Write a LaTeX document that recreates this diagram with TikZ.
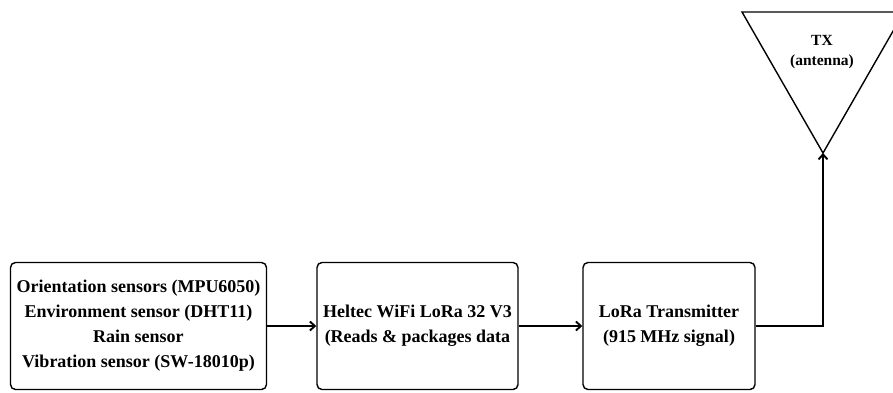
\documentclass[tikz,border=0pt]{standalone}
\usepackage{fontspec}
\setmainfont{Liberation Serif}
\usetikzlibrary{arrows.meta}
\begin{document}
\begin{tikzpicture}[x=1pt,y=-1pt,
  blk/.style={draw, line width=1.4pt, rounded corners=5pt, align=center, font=\bfseries\fontsize{18}{25}\selectfont, inner sep=0pt},
  conn/.style={line width=1.9pt, -{Straight Barb[length=5pt,width=9pt,line width=1.9pt]}},
  lbl/.style={font=\bfseries\fontsize{15.5}{20}\selectfont, align=center, inner sep=0pt}]
\useasboundingbox (0,0) rectangle (893,392);
\node[blk, minimum width=256pt, minimum height=127pt] (sens) at (138.5,326) {Orientation sensors (MPU6050)\\Environment sensor (DHT11)\\Rain sensor\\Vibration sensor (SW-18010p)};
\node[blk, minimum width=201pt, minimum height=127pt] (mcu) at (417.5,326) {Heltec WiFi LoRa 32 V3\\(Reads \& packages data};
\node[blk, minimum width=172pt, minimum height=127pt] (lora) at (669,326) {LoRa Transmitter\\(915 MHz signal)};
\coordinate (tl) at (742,12);
\coordinate (tr) at (904,12);
\coordinate (apex) at (823,153);
\draw[line width=1.4pt, line join=miter] (tl) -- (tr) -- (apex) -- cycle;
\node[lbl] (tx) at (822,52) {TX\\(antenna)};
\coordinate (bend) at (823,326);
\draw[conn] (sens) -- (mcu);
\draw[conn] (mcu) -- (lora);
\draw[conn] (lora.east) -- (bend) -- (apex);
\end{tikzpicture}
\end{document}
